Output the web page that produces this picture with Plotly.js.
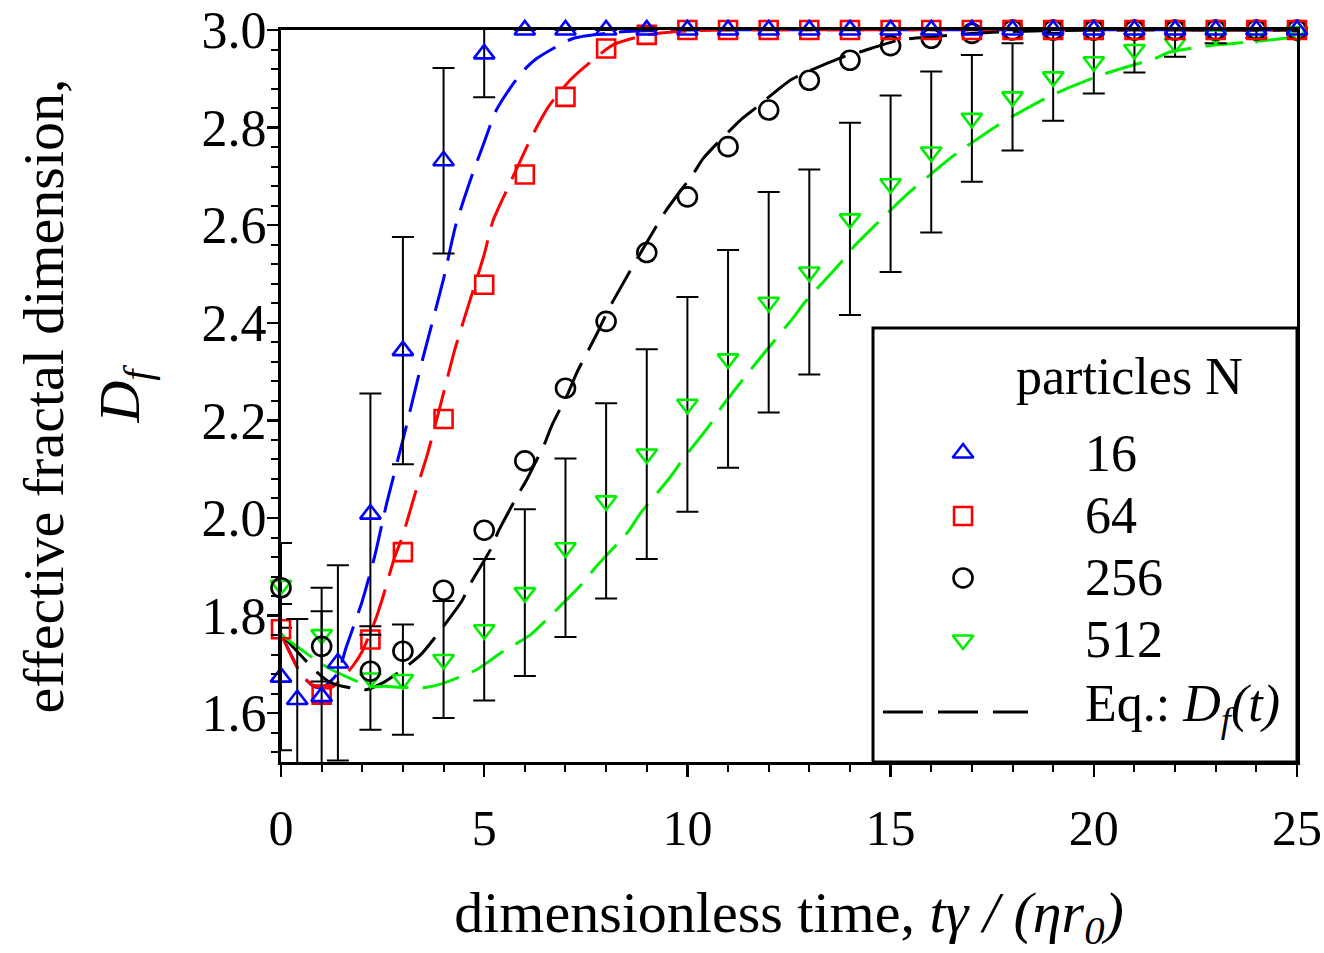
<!DOCTYPE html>
<html>
<head>
<meta charset="utf-8">
<script src="https://cdn.plot.ly/plotly-3.0.1.min.js"></script>
<style>html,body{margin:0;padding:0;background:#fff;}#chart{width:1324px;height:953px;}</style>
</head>
<body>
<div id="chart"></div>
<script>
// ---- measured data (N = number of particles) ----
const t16 = [0, 0.4, 1, 1.4, 2.2, 3, 4, 5, 6, 7, 8, 9, 10, 11, 12, 13, 14, 15, 16, 17, 18, 19, 20, 21, 22, 23, 24, 25];
const df16 = [1.674, 1.628, 1.634, 1.703, 2.008, 2.343, 2.732, 2.951, 3.0, 3.0, 3.0, 3.0, 3.0, 3.0, 3.0, 3.0, 3.0, 3.0, 3.0, 3.0, 3.0, 3.0, 3.0, 3.0, 3.0, 3.0, 3.0, 3.0];
const err16 = [0.15, 0.165, 0.175, 0.2, 0.247, 0.233, 0.19, 0.089, null, null, null, null, null, null, null, null, null, null, null, null, null, null, null, null, null, null, null, null];

const t64 = [0, 1, 2.2, 3, 4, 5, 6, 7, 8, 9, 10, 11, 12, 13, 14, 15, 16, 17, 18, 19, 20, 21, 22, 23, 24, 25];
const df64 = [1.772, 1.638, 1.751, 1.930, 2.203, 2.478, 2.704, 2.863, 2.962, 2.990, 3.0, 3.0, 3.0, 3.0, 3.0, 3.0, 3.0, 3.0, 3.0, 3.0, 3.0, 3.0, 3.0, 3.0, 3.0, 3.0];

const t256 = [0, 1, 2.2, 3, 4, 5, 6, 7, 8, 9, 10, 11, 12, 13, 14, 15, 16, 17, 18, 19, 20, 21, 22, 23, 24, 25];
const df256 = [1.857, 1.737, 1.686, 1.727, 1.852, 1.975, 2.117, 2.266, 2.403, 2.544, 2.658, 2.761, 2.836, 2.897, 2.938, 2.968, 2.983, 2.993, 3.0, 3.0, 3.0, 3.0, 3.0, 3.0, 3.0, 3.0];

const t512 = [0, 1, 2.2, 3, 4, 5, 6, 7, 8, 9, 10, 11, 12, 13, 14, 15, 16, 17, 18, 19, 20, 21, 22, 23, 24, 25];
const df512 = [1.862, 1.761, 1.672, 1.669, 1.710, 1.771, 1.847, 1.939, 2.035, 2.131, 2.233, 2.326, 2.442, 2.504, 2.613, 2.685, 2.750, 2.819, 2.863, 2.904, 2.935, 2.960, 2.973, 2.990, 2.994, 2.997];
const err512 = [0.087, 0.096, 0.106, 0.113, 0.12, 0.145, 0.171, 0.183, 0.2, 0.215, 0.22, 0.223, 0.226, 0.21, 0.197, 0.181, 0.165, 0.13, 0.11, 0.09, 0.065, 0.047, 0.028, 0.017, 0.01, null];

// ---- equation curves D_f(t) ----
const tFit16 = [0, 0.25, 0.5, 0.8, 1.0, 1.4, 1.6, 2.0, 2.3, 2.6, 3.0, 3.5, 4.0, 4.3, 4.65, 5.0, 5.3, 5.9, 6.3, 7.2, 8.5, 10, 25];
const fit16 = [1.762, 1.72, 1.679, 1.655, 1.652, 1.682, 1.734, 1.83, 1.92, 2.03, 2.16, 2.33, 2.49, 2.6, 2.69, 2.77, 2.836, 2.911, 2.942, 2.983, 2.997, 3.0, 3.0];

const tFit64 = [0, 0.5, 0.8, 1.23, 1.76, 2.0, 2.34, 2.5, 2.79, 3.0, 3.3, 3.6, 3.95, 4.28, 4.65, 5.0, 5.22, 5.59, 5.76, 6.21, 6.6, 7.11, 7.48, 8.18, 9, 10, 11, 25];
const fit64 = [1.762, 1.679, 1.657, 1.652, 1.696, 1.727, 1.795, 1.836, 1.918, 1.965, 2.05, 2.13, 2.24, 2.346, 2.446, 2.54, 2.61, 2.678, 2.709, 2.788, 2.845, 2.897, 2.925, 2.97, 2.99, 2.998, 3.0, 3.0];

const tFit256 = [0, 0.45, 0.86, 1.23, 1.7, 2.09, 2.5, 3.0, 3.44, 3.75, 4.45, 4.65, 5.18, 5.35, 5.84, 6.05, 6.5, 6.66, 7.07, 7.28, 7.77, 7.93, 8.18, 9.45, 10.15, 10.39, 11.3, 11.66, 12.53, 12.94, 13.84, 14.25, 15.19, 16, 17, 18, 20, 25];
const fit256 = [1.762, 1.722, 1.686, 1.662, 1.652, 1.648, 1.662, 1.69, 1.72, 1.751, 1.83, 1.864, 1.939, 1.973, 2.049, 2.079, 2.155, 2.189, 2.257, 2.298, 2.377, 2.405, 2.446, 2.627, 2.706, 2.737, 2.815, 2.839, 2.897, 2.914, 2.945, 2.955, 2.979, 2.986, 2.993, 2.997, 3.0, 3.0];

const tFit512 = [0, 0.96, 1.25, 2.19, 2.56, 3.0, 3.5, 3.91, 4.81, 5.18, 5.47, 6.13, 6.5, 7.4, 7.73, 8.55, 8.83, 9.57, 9.86, 10.56, 10.84, 11.54, 11.87, 12.61, 12.89, 13.75, 14.07, 14.99, 15.35, 16.3, 16.67, 17.6, 17.98, 18.88, 19.25, 20.19, 20.56, 21.51, 21.87, 22.78, 23.23, 24.13, 24.5, 25];
const fit512 = [1.761, 1.703, 1.689, 1.655, 1.655, 1.653, 1.652, 1.659, 1.689, 1.710, 1.727, 1.760, 1.789, 1.864, 1.898, 1.973, 2.008, 2.083, 2.117, 2.192, 2.227, 2.302, 2.336, 2.411, 2.442, 2.521, 2.554, 2.630, 2.659, 2.726, 2.750, 2.803, 2.822, 2.863, 2.877, 2.908, 2.918, 2.942, 2.955, 2.967, 2.971, 2.978, 2.981, 2.986];

// ---- labels ----
const seriesNames = ['16', '64', '256', '512'];
const legendTitle = 'particles N';
const eqLabel = 'Eq.: <i>D<sub>f</sub>(t)</i>';
const xTitle = 'dimensionless time, <i>tγ / (ηr<sub>0</sub>)</i>';
const yTitle = 'effective fractal dimension,<br><i>D<sub>f</sub></i>';

// ---- styles ----
const FONT = 'Liberation Serif, Times New Roman, serif';
const colors = ['#0000ff', '#ff0000', '#000000', '#00ee00'];
const symbols = ['triangle-up-open', 'square-open', 'circle-open', 'triangle-down-open'];
const msizes = [18, 18, 19, 18];
const DASH = '38px,14px';

const fitT = [tFit16, tFit64, tFit256, tFit512];
const fitY = [fit16, fit64, fit256, fit512];
const dataT = [t16, t64, t256, t512];
const dataY = [df16, df64, df256, df512];
const dataErr = [err16, null, null, err512];

const traces = [];
for (let i = 0; i < 4; i++) {
  traces.push({
    x: fitT[i], y: fitY[i], type: 'scatter', mode: 'lines',
    line: {color: colors[i], width: 3, dash: DASH, shape: 'spline', smoothing: 0.6},
    showlegend: false, hoverinfo: 'skip', cliponaxis: true
  });
}
const order = [3, 2, 1, 0];
for (const i of order) {
  const tr = {
    x: dataT[i], y: dataY[i], type: 'scatter', mode: 'markers', name: seriesNames[i],
    marker: {symbol: symbols[i], size: msizes[i], color: colors[i], line: {color: colors[i], width: 2.6}},
    showlegend: false, cliponaxis: false
  };
  if (dataErr[i]) {
    tr.error_y = {type: 'data', array: dataErr[i], visible: true, color: '#000', thickness: 2, width: 11};
  }
  traces.push(tr);
}

// legend key (drawn on an overlay axis in plot-fraction units)
const keyX = 0.6713;
const keyY = [0.4221, 0.3361, 0.2514, 0.1667];
for (let i = 0; i < 4; i++) {
  traces.push({
    x: [keyX], y: [keyY[i]], xaxis: 'x2', yaxis: 'y2', type: 'scatter', mode: 'markers',
    marker: {symbol: symbols[i], size: msizes[i], color: colors[i], line: {color: colors[i], width: 2.6}},
    showlegend: false, hoverinfo: 'skip', cliponaxis: false
  });
}

const annotations = [
  {xref: 'paper', yref: 'paper', x: 0.8356, y: 0.526, text: legendTitle, showarrow: false,
   xanchor: 'center', yanchor: 'middle', font: {family: FONT, size: 52, color: '#000'}}
];
const labY = [0.4221, 0.3361, 0.2514, 0.1667, 0.0751];
const labTxt = seriesNames.concat([eqLabel]);
for (let i = 0; i < 5; i++) {
  annotations.push({xref: 'paper', yref: 'paper', x: 0.7895, y: labY[i], text: labTxt[i], showarrow: false,
    xanchor: 'left', yanchor: 'middle', font: {family: FONT, size: 52, color: '#000'}});
}

const layout = {
  width: 1324, height: 953,
  margin: {l: 281, r: 27, t: 30, b: 191},
  paper_bgcolor: '#fff', plot_bgcolor: '#fff',
  showlegend: false,
  font: {family: FONT, color: '#000'},
  xaxis: {
    range: [0, 25], dtick: 5, tick0: 0, ticks: 'outside', ticklen: 12, tickwidth: 2.5, tickcolor: '#000',
    showline: true, linewidth: 3, linecolor: '#000', mirror: true, showgrid: false, zeroline: false,
    minor: {dtick: 1, ticks: 'outside', ticklen: 7, tickwidth: 2, tickcolor: '#000', showgrid: false},
    tickfont: {family: FONT, size: 50, color: '#000'}, ticklabelstandoff: 8,
    title: {text: xTitle, font: {family: FONT, size: 58, color: '#000'}, standoff: 52},
    automargin: false
  },
  yaxis: {
    range: [1.5, 3.0], dtick: 0.2, tick0: 1.6, ticks: 'outside', ticklen: 11, tickwidth: 2.5, tickcolor: '#000',
    showline: true, linewidth: 3, linecolor: '#000', mirror: true, showgrid: false, zeroline: false,
    minor: {dtick: 0.04, tick0: 1.6, ticks: 'outside', ticklen: 7, tickwidth: 2, tickcolor: '#000', showgrid: false},
    tickformat: '.1f',
    tickfont: {family: FONT, size: 52, color: '#000'}, ticklabelstandoff: -10,
    title: {text: yTitle, font: {family: FONT, size: 58, color: '#000'}, standoff: 44},
    automargin: false
  },
  xaxis2: {overlaying: 'x', range: [0, 1], visible: false, fixedrange: true},
  yaxis2: {overlaying: 'y', range: [0, 1], visible: false, fixedrange: true},
  shapes: [
    {type: 'rect', xref: 'paper', yref: 'paper', x0: 0.5827, x1: 1, y0: 0, y1: 0.593,
     line: {color: '#000', width: 3}, fillcolor: '#fff', layer: 'below'},
    {type: 'line', xref: 'paper', yref: 'paper', x0: 0.5925, x1: 0.7352, y0: 0.0683, y1: 0.0683,
     line: {color: '#000', width: 3, dash: '40px,15px'}}
  ],
  annotations: annotations
};

Plotly.newPlot('chart', traces, layout, {staticPlot: true, displayModeBar: false});
</script>
</body>
</html>
